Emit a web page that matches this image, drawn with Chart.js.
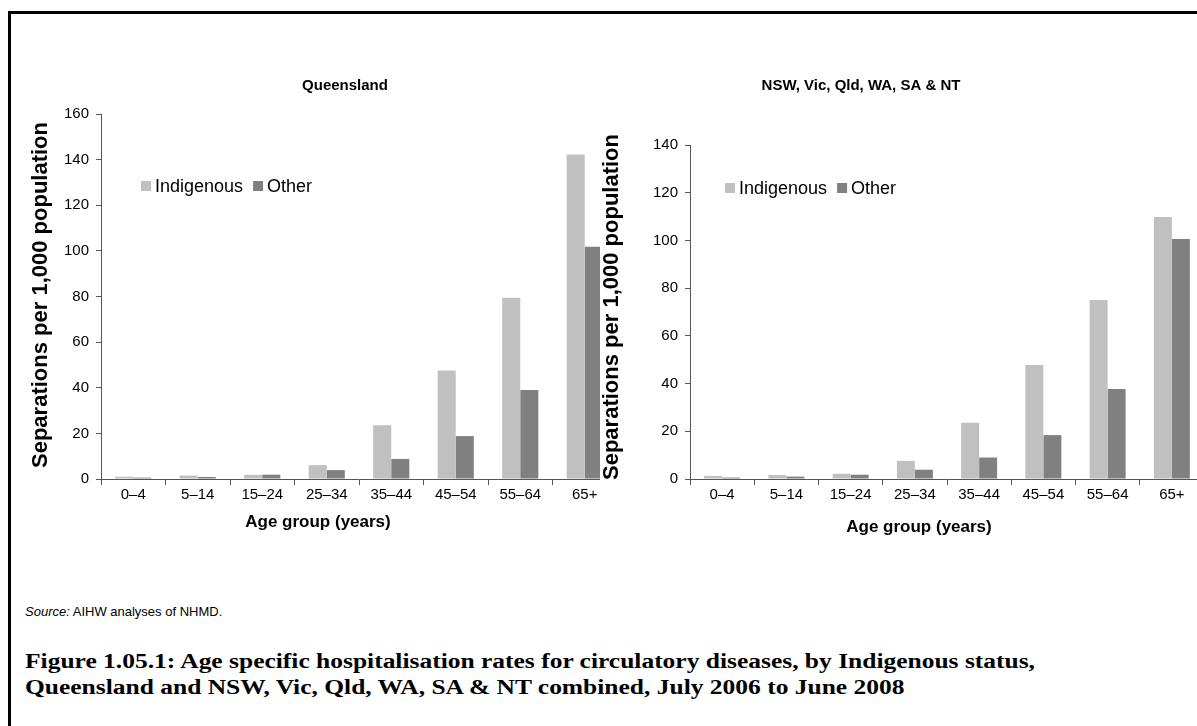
<!DOCTYPE html>
<html>
<head>
<meta charset="utf-8">
<script src="https://cdn.jsdelivr.net/npm/chart.js@4"></script>
<style>
  body { margin: 0; width: 1197px; height: 726px; overflow: hidden; background: #fff; position: relative; font-family: "Liberation Sans", Arial, sans-serif; }
  #frame { position: absolute; left: 8px; top: 11px; width: 1300px; height: 800px; border-left: 3px solid #000; border-top: 3px solid #000; }
  canvas { position: absolute; }
  #qld { left: 12px; top: 20px; }
  #comb { left: 600px; top: 20px; background: #fff; }
  #source { position: absolute; left: 25px; top: 604px; font-size: 13px; color: #000; }
  .caption { position: absolute; left: 25px; font-family: "Liberation Serif", "Times New Roman", serif; font-weight: bold; font-size: 20px; white-space: nowrap; transform-origin: 0 0; color: #000; }
</style>
</head>
<body>
<div id="frame"></div>
<canvas id="qld" width="610" height="540"></canvas>
<canvas id="comb" width="610" height="540"></canvas>
<div id="source"><i>Source:</i> AIHW analyses of NHMD.</div>
<div class="caption" id="cap1" style="top:650px">Figure 1.05.1: Age specific hospitalisation rates for circulatory diseases, by Indigenous status,</div>
<div class="caption" id="cap2" style="top:676px">Queensland and NSW, Vic, Qld, WA, SA &amp; NT combined, July 2006 to June 2008</div>
<script>
// data
const ageGroups = ['0–4', '5–14', '15–24', '25–34', '35–44', '45–54', '55–64', '65+'];
const qldIndigenous = [1.0, 1.5, 1.8, 6.1, 23.6, 47.6, 79.4, 142.2];
const qldOther = [0.6, 0.9, 1.9, 3.9, 8.8, 18.8, 39.0, 101.8];
const combIndigenous = [1.3, 1.7, 2.2, 7.6, 23.6, 47.8, 75.0, 109.8];
const combOther = [0.6, 1.0, 1.8, 3.9, 9.0, 18.4, 37.7, 100.6];
const qldMax = 160;
const combMax = 140;
const tickStep = 20;

const FONT = '"Liberation Sans", Arial, sans-serif';
const COLORS = { Indigenous: '#c0c0c0', Other: '#808080' };

// free text (titles, axis titles) drawn on the canvas
const textPlugin = {
    id: 'texts',
    afterDraw(chart, args, opts) {
        const ctx = chart.ctx;
        for (const t of opts.items || []) {
            ctx.save();
            ctx.font = t.font;
            ctx.fillStyle = '#000';
            ctx.textAlign = 'center';
            ctx.textBaseline = 'middle';
            ctx.translate(t.x, t.y);
            if (t.rotate) ctx.rotate(t.rotate);
            ctx.fillText(t.text, 0, 0);
            ctx.restore();
        }
    }
};

// legend sitting inside the plot area
const innerLegend = {
    id: 'innerLegend',
    afterDraw(chart, args, opts) {
        const ctx = chart.ctx;
        ctx.save();
        ctx.font = `${opts.size}px ${FONT}`;
        ctx.textBaseline = 'middle';
        let x = opts.x;
        chart.data.datasets.forEach(ds => {
            ctx.fillStyle = ds.backgroundColor;
            ctx.fillRect(x, opts.y - 5, 10, 10);
            x += 14;
            ctx.fillStyle = '#000';
            ctx.fillText(ds.label, x, opts.y + 1);
            x += ctx.measureText(ds.label).width + opts.gap;
        });
        ctx.restore();
    }
};

function makeChart(id, indigenous, other, yMax, box) {
    return new Chart(document.getElementById(id), {
        type: 'bar',
        data: {
            labels: ageGroups,
            datasets: [
                { label: 'Indigenous', data: indigenous, backgroundColor: COLORS.Indigenous },
                { label: 'Other', data: other, backgroundColor: COLORS.Other }
            ]
        },
        options: {
            responsive: false, animation: false,
            layout: { padding: { left: 0, top: box.top, right: box.right, bottom: 0 } },
            datasets: { bar: { categoryPercentage: 0.56, barPercentage: 1 } },
            scales: {
                x: {
                    grid: { drawOnChartArea: false, drawTicks: true, tickLength: 6, color: '#555', offset: true },
                    border: { color: '#555', width: 1 },
                    ticks: { color: '#000', font: { family: FONT, size: 15 }, padding: 1, maxRotation: 0, autoSkip: false },
                    afterFit: s => { s.height = box.xHeight; }
                },
                y: {
                    min: 0, max: yMax,
                    grid: { drawOnChartArea: false, drawTicks: true, tickLength: 5, color: '#555' },
                    border: { color: '#555', width: 1 },
                    ticks: { stepSize: tickStep, color: '#000', font: { family: FONT, size: 15 }, padding: 7 },
                    afterFit: s => { s.width = box.yWidth; }
                }
            },
            plugins: {
                legend: { display: false },
                tooltip: { enabled: false },
                texts: { items: box.texts },
                innerLegend: box.legend
            }
        },
        plugins: [textPlugin, innerLegend]
    });
}

const yTitle = 'Separations per 1,000 population';
const xTitle = 'Age group (years)';

makeChart('qld', qldIndigenous, qldOther, qldMax, {
    top: 94, right: 5, yWidth: 89, xHeight: 81,
    legend: { x: 129, y: 166, size: 18, gap: 10 },
    texts: [
        { text: 'Queensland', x: 333, y: 66, font: `bold 15px ${FONT}` },
        { text: yTitle, x: 29, y: 275, font: `bold 22px ${FONT}`, rotate: -Math.PI / 2 },
        { text: xTitle, x: 306, y: 502, font: `bold 17px ${FONT}` }
    ]
});

makeChart('comb', combIndigenous, combOther, combMax, {
    top: 125, right: 6, yWidth: 90, xHeight: 81,
    legend: { x: 125, y: 168, size: 18, gap: 10 },
    texts: [
        { text: 'NSW, Vic, Qld, WA, SA & NT', x: 261, y: 66, font: `bold 15px ${FONT}` },
        { text: yTitle, x: 12, y: 287, font: `bold 22px ${FONT}`, rotate: -Math.PI / 2 },
        { text: xTitle, x: 319, y: 507, font: `bold 17px ${FONT}` }
    ]
});

// stretch caption lines to the reference width
const cap1 = document.getElementById('cap1');
const cap2 = document.getElementById('cap2');
const k = 1010 / cap1.getBoundingClientRect().width;
cap1.style.transform = `scaleX(${k})`;
cap2.style.transform = `scaleX(${k})`;
</script>
</body>
</html>
